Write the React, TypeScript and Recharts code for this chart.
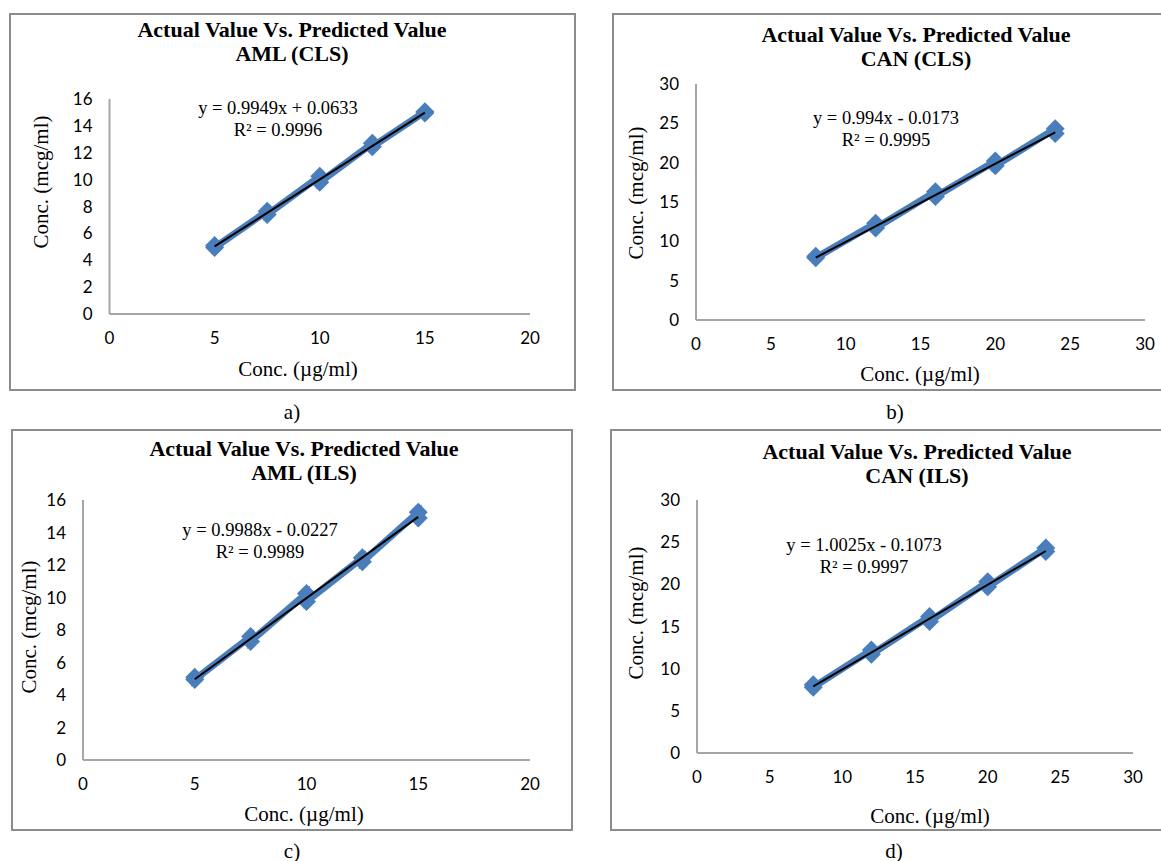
import React from 'react';
import { ScatterChart, Scatter, XAxis, YAxis } from 'recharts';

// ---------- data ----------
const amlConc = [5, 5, 7.5, 7.5, 10, 10, 12.5, 12.5, 15, 15];
const canConc = [8, 8, 12, 12, 16, 16, 20, 20, 24, 24];

const amlClsPred = [5.1, 4.95, 7.65, 7.4, 10.25, 9.8, 12.7, 12.45, 15.05, 14.95];
const canClsPred = [8.1, 7.9, 12.3, 11.7, 16.3, 15.7, 20.2, 19.6, 24.3, 23.7];
const amlIlsPred = [5.1, 4.95, 7.6, 7.3, 10.25, 9.75, 12.45, 12.2, 15.25, 14.9];
const canIlsPred = [8.1, 7.8, 12.2, 11.7, 16.2, 15.6, 20.3, 19.7, 24.3, 23.9];

// trend line end points (from the fitted equations shown)
const amlClsTrendX = [5, 15];
const amlClsTrendY = [5.038, 14.987];
const canClsTrendX = [8, 24];
const canClsTrendY = [7.935, 23.839];
const amlIlsTrendX = [5, 15];
const amlIlsTrendY = [4.971, 14.959];
const canIlsTrendX = [8, 24];
const canIlsTrendY = [7.913, 23.953];

const amlTicksX = [0, 5, 10, 15, 20];
const amlTicksY = [0, 2, 4, 6, 8, 10, 12, 14, 16];
const canTicksX = [0, 5, 10, 15, 20, 25, 30];
const canTicksY = [0, 5, 10, 15, 20, 25, 30];

const titleLine1 = 'Actual Value Vs. Predicted Value';
const subtitles = ['AML (CLS)', 'CAN (CLS)', 'AML (ILS)', 'CAN (ILS)'];
const equations = ['y = 0.9949x + 0.0633', 'y = 0.994x - 0.0173', 'y = 0.9988x - 0.0227', 'y = 1.0025x - 0.1073'];
const rSquared = ['R² = 0.9996', 'R² = 0.9995', 'R² = 0.9989', 'R² = 0.9997'];
const captions = ['a)', 'b)', 'c)', 'd)'];
const xTitle = 'Conc. (µg/ml)';
const yTitle = 'Conc. (mcg/ml)';

const zip = (xs: number[], ys: number[]) => xs.map((x, i) => ({ x, y: ys[i] }));

// ---------- layout ----------
type Layout = {
  box: [number, number, number, number]; // left, top, right, bottom
  plot: [number, number, number, number];
  title: [number, number];
  eq: [number, number];
  xt: [number, number];
  yt: [number, number];
  cap: [number, number];
};

const layouts: Layout[] = [
  { box: [9, 13, 576, 391], plot: [109.5, 99, 530, 314], title: [292, 30], eq: [278, 108], xt: [298, 369], yt: [41, 182], cap: [292, 412] },
  { box: [612, 13, 1164, 391], plot: [696, 84, 1145, 320], title: [916, 35], eq: [886, 118], xt: [920, 374], yt: [636, 193], cap: [895, 412] },
  { box: [11, 429, 573, 831], plot: [83, 500, 530, 760], title: [304, 449], eq: [260, 530], xt: [304, 814], yt: [29, 627], cap: [292, 851] },
  { box: [610, 429, 1164, 831], plot: [697, 500, 1133, 753], title: [917, 452], eq: [864, 545], xt: [930, 816], yt: [636, 613], cap: [894, 851] },
];

const BLUE = '#4A7EBB';
const SERIF = '"Liberation Serif", "Times New Roman", serif';
const SANS = 'Lato, "Open Sans", sans-serif';

const Diamond = (props: any) => {
  const { cx, cy } = props;
  if (cx == null || cy == null) return <g />;
  const r = 9.5;
  return <polygon points={`${cx},${cy - r} ${cx + r},${cy} ${cx},${cy + r} ${cx - r},${cy}`} fill={BLUE} />;
};
const NoShape = () => <g />;

const Txt = ({ x, y, children, style }: any) => (
  <div
    style={{
      position: 'absolute',
      left: x,
      top: y,
      transform: 'translate(-50%, -50%)',
      whiteSpace: 'nowrap',
      fontFamily: SERIF,
      color: '#000',
      lineHeight: 1,
      ...style,
    }}
  >
    {children}
  </div>
);

type PanelProps = {
  idx: number;
  data: { x: number; y: number }[];
  trend: { x: number; y: number }[];
  ticksX: number[];
  ticksY: number[];
};

const Panel = ({ idx, data, trend, ticksX, ticksY }: PanelProps) => {
  const L = layouts[idx];
  const [bl, bt, br, bb] = L.box;
  const [pl, pt, pr, pb] = L.plot;
  const yw = 50;
  const xh = 40;
  const w = br - bl;
  const h = bb - bt;
  const margin = {
    left: pl - bl - yw,
    top: pt - bt,
    right: br - pr,
    bottom: bb - pb - xh,
  };
  const xMax = ticksX[ticksX.length - 1];
  const yMax = ticksY[ticksY.length - 1];
  return (
    <>
      <div
        style={{
          position: 'absolute',
          left: bl,
          top: bt,
          width: w,
          height: h,
          border: '2px solid #8c8c8c',
          boxSizing: 'border-box',
        }}
      />
      <div style={{ position: 'absolute', left: bl, top: bt }}>
        <ScatterChart width={w} height={h} margin={margin}>
          <XAxis
            type="number"
            dataKey="x"
            domain={[0, xMax]}
            ticks={ticksX}
            height={xh}
            tickLine={false}
            tickSize={0}
            tickMargin={18}
            axisLine={{ stroke: '#A6A6A6', strokeWidth: 2 }}
            tick={{ fill: '#000', fontFamily: SANS, fontSize: 17 }}
          />
          <YAxis
            type="number"
            dataKey="y"
            domain={[0, yMax]}
            ticks={ticksY}
            width={yw}
            tickLine={false}
            tickSize={0}
            tickMargin={17}
            axisLine={{ stroke: '#A6A6A6', strokeWidth: 2 }}
            tick={{ fill: '#000', fontFamily: SANS, fontSize: 17 }}
          />
          <Scatter
            data={data}
            fill={BLUE}
            line={{ stroke: BLUE, strokeWidth: 7 }}
            lineJointType="linear"
            shape={Diamond}
            isAnimationActive={false}
          />
          <Scatter
            data={trend}
            fill="#000"
            line={{ stroke: '#000', strokeWidth: 2 }}
            shape={NoShape}
            isAnimationActive={false}
          />
        </ScatterChart>
      </div>
      <Txt x={L.title[0]} y={L.title[1]} style={{ fontWeight: 'bold', fontSize: 22 }}>
        {titleLine1}
      </Txt>
      <Txt x={L.title[0]} y={L.title[1] + 24} style={{ fontWeight: 'bold', fontSize: 22 }}>
        {subtitles[idx]}
      </Txt>
      <Txt x={L.eq[0]} y={L.eq[1]} style={{ fontSize: 18.5 }}>
        {equations[idx]}
      </Txt>
      <Txt x={L.eq[0]} y={L.eq[1] + 21.5} style={{ fontSize: 18.5 }}>
        {rSquared[idx]}
      </Txt>
      <Txt x={L.xt[0]} y={L.xt[1]} style={{ fontSize: 21 }}>
        {xTitle}
      </Txt>
      <Txt x={L.yt[0]} y={L.yt[1]} style={{ fontSize: 21, transform: 'translate(-50%, -50%) rotate(-90deg)' }}>
        {yTitle}
      </Txt>
      <Txt x={L.cap[0]} y={L.cap[1]} style={{ fontSize: 21 }}>
        {captions[idx]}
      </Txt>
    </>
  );
};

export default function App() {
  return (
    <div
      style={{
        position: 'absolute',
        left: 0,
        top: 0,
        width: 1161,
        height: 861,
        overflow: 'hidden',
        background: '#fff',
      }}
    >
      <Panel idx={0} data={zip(amlConc, amlClsPred)} trend={zip(amlClsTrendX, amlClsTrendY)} ticksX={amlTicksX} ticksY={amlTicksY} />
      <Panel idx={1} data={zip(canConc, canClsPred)} trend={zip(canClsTrendX, canClsTrendY)} ticksX={canTicksX} ticksY={canTicksY} />
      <Panel idx={2} data={zip(amlConc, amlIlsPred)} trend={zip(amlIlsTrendX, amlIlsTrendY)} ticksX={amlTicksX} ticksY={amlTicksY} />
      <Panel idx={3} data={zip(canConc, canIlsPred)} trend={zip(canIlsTrendX, canIlsTrendY)} ticksX={canTicksX} ticksY={canTicksY} />
    </div>
  );
}
